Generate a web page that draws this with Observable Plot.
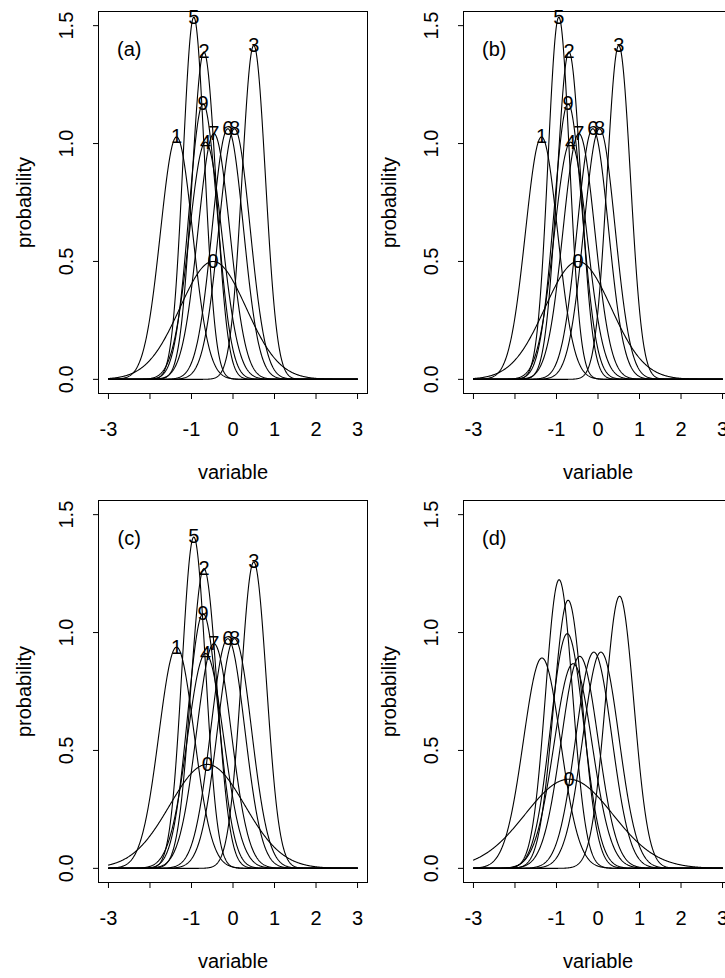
<!DOCTYPE html>
<html>
<head>
<meta charset="utf-8">
<script src="https://cdn.jsdelivr.net/npm/d3@7"></script>
<script src="https://cdn.jsdelivr.net/npm/@observablehq/plot@0.6"></script>
<style>
  html, body { margin: 0; padding: 0; background: #fff; }
  #wrap { position: relative; width: 725px; height: 978px; overflow: hidden; background: #fff; }
</style>
</head>
<body>
<div id="wrap"></div>
<script>
// ---- data ----
const curveLabels = ["0","1","2","3","4","5","6","7","8","9"];
const meansA = [-0.48, -1.36, -0.70, 0.50, -0.66, -0.944, -0.125, -0.46, 0.036, -0.72];
const peaksA = [0.50, 1.028, 1.388, 1.416, 1.006, 1.536, 1.063, 1.042, 1.063, 1.169];
const meansB = [-0.48, -1.36, -0.70, 0.50, -0.66, -0.944, -0.125, -0.46, 0.036, -0.72];
const peaksB = [0.50, 1.028, 1.388, 1.416, 1.006, 1.536, 1.063, 1.042, 1.063, 1.169];
const meansC = [-0.62, -1.36, -0.70, 0.50, -0.66, -0.944, -0.125, -0.46, 0.036, -0.72];
const peaksC = [0.441, 0.938, 1.271, 1.299, 0.911, 1.405, 0.974, 0.953, 0.974, 1.080];
const meansD = [-0.70, -1.35, -0.72, 0.52, -0.60, -0.937, -0.10, -0.44, 0.07, -0.74];
const peaksD = [0.378, 0.892, 1.137, 1.154, 0.868, 1.224, 0.917, 0.899, 0.917, 0.995];
const panelTags = ["(a)", "(b)", "(c)", "(d)"];
const shownLabels = [curveLabels, curveLabels, curveLabels, ["0"]];
const xTicks = [-3, -2, -1, 0, 1, 2, 3];
const xTickLabels = ["-3", "", "-1", "0", "1", "2", "3"];
const yTicks = [0, 0.5, 1, 1.5];
const yTickLabels = ["0.0", "0.5", "1.0", "1.5"];
const xLabel = "variable";
const yLabel = "probability";
const tagPos = {x: -2.5, y: 1.4};

// ---- build curves (normal densities defined by mean and peak height) ----
const grid = d3.range(-3, 3.0001, 0.01);
function curvesFor(means, peaks) {
  const rows = [];
  curveLabels.forEach((lab, i) => {
    const sd = 1 / (peaks[i] * Math.sqrt(2 * Math.PI));
    for (const x of grid) {
      const z = (x - means[i]) / sd;
      rows.push({id: lab, x, y: peaks[i] * Math.exp(-0.5 * z * z)});
    }
  });
  return rows;
}

const font = "'Liberation Sans', Arial, Helvetica, sans-serif";
const panels = [
  {means: meansA, peaks: peaksA, left: 0,   top: 0,   ml: 98, mr: 3},
  {means: meansB, peaks: peaksB, left: 364, top: 0,   ml: 99, mr: 2},
  {means: meansC, peaks: peaksC, left: 0,   top: 489, ml: 98, mr: 3},
  {means: meansD, peaks: peaksD, left: 364, top: 489, ml: 99, mr: 2}
];

const wrap = document.getElementById("wrap");
panels.forEach((p, k) => {
  const data = curvesFor(p.means, p.peaks);
  const labs = curveLabels
    .map((lab, i) => ({lab, x: p.means[i], y: p.peaks[i]}))
    .filter(d => shownLabels[k].includes(d.lab));
  const chart = Plot.plot({
    width: 370,
    height: 489,
    marginLeft: p.ml,
    marginRight: p.mr,
    marginTop: 11,
    marginBottom: 96,
    style: {fontFamily: font, fontSize: "20px", background: "transparent", overflow: "visible", color: "black"},
    x: {domain: [-3.24, 3.24], axis: null, label: null},
    y: {domain: [-0.06, 1.56], axis: null, label: null},
    marks: [
      Plot.frame({stroke: "black", strokeWidth: 1}),
      Plot.line(data, {x: "x", y: "y", z: "id", stroke: "black", strokeWidth: 1.1}),
      Plot.text(labs, {x: "x", y: "y", text: "lab", fontSize: 20, lineAnchor: "middle", fill: "black"}),
      Plot.text([panelTags[k]], {x: () => tagPos.x, y: () => tagPos.y, text: d => d, fontSize: 20, lineAnchor: "middle", fill: "black"}),
      Plot.axisX({ticks: xTicks, tickSize: 6, tickFormat: () => "", label: null, stroke: "black", strokeWidth: 1}),
      Plot.text(xTicks, {x: d => d, text: (d, i) => xTickLabels[i], frameAnchor: "bottom", dy: 42, lineAnchor: "bottom", fontSize: 20, fill: "black"}),
      Plot.axisY({ticks: yTicks, tickSize: 5, tickFormat: () => "", label: null, stroke: "black", strokeWidth: 1}),
      Plot.text(yTicks, {y: d => d, text: (d, i) => yTickLabels[i], frameAnchor: "left", dx: -26, rotate: -90, lineAnchor: "bottom", textAnchor: "middle", fontSize: 20, fill: "black"}),
      Plot.text([xLabel], {text: d => d, frameAnchor: "bottom", dy: 85, lineAnchor: "bottom", fontSize: 20, fill: "black"}),
      Plot.text([yLabel], {text: d => d, frameAnchor: "left", dx: -68, rotate: -90, lineAnchor: "bottom", textAnchor: "middle", fontSize: 20, fill: "black"})
    ]
  });
  chart.style.position = "absolute";
  chart.style.left = p.left + "px";
  chart.style.top = p.top + "px";
  wrap.appendChild(chart);
});
</script>
</body>
</html>
